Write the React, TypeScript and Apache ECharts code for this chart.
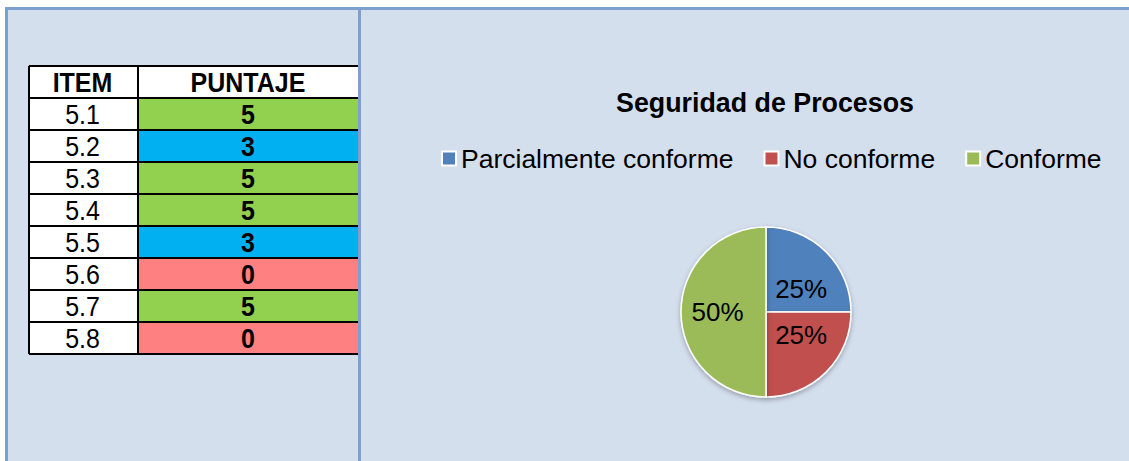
import React, { useEffect, useRef } from "react";
import * as echarts from "echarts";

const items = ["5.1", "5.2", "5.3", "5.4", "5.5", "5.6", "5.7", "5.8"];
const scores = [5, 3, 5, 5, 3, 0, 5, 0];
const tableHeaders = ["ITEM", "PUNTAJE"];
const pieTitle = "Seguridad de Procesos";
const pieCategories = ["Parcialmente conforme", "No conforme", "Conforme"];
const pieValues = [2, 2, 4];
const pieColors = ["#4F81BD", "#C0504D", "#9BBB59"];

const FONT = '"Liberation Sans", Arial, sans-serif';

function scoreColor(s: number) {
  if (s >= 5) return "#92D050";
  if (s >= 3) return "#00B0F0";
  return "#FF8080";
}

export default function App() {
  const ref = useRef<HTMLDivElement>(null);
  useEffect(() => {
    if (!ref.current) return;
    const chart = echarts.init(ref.current, undefined, { renderer: "svg" });
    const bg = "#D4DFEE";
    const border = "#7DA0CE";
    const x0 = 29, xMid = 138, x1 = 358, yTop = 66, rowH = 32;
    const nRows = items.length + 1;
    const pieCx = 766, pieCy = 312;
    const els: any[] = [];
    els.push({ type: "rect", shape: { x: 5, y: 7, width: 1124, height: 454 }, style: { fill: bg } });
    for (let r = 0; r < nRows; r++) {
      const y = yTop + r * rowH;
      els.push({ type: "rect", shape: { x: x0, y, width: xMid - x0, height: rowH }, style: { fill: "#fff" } });
      const fill = r === 0 ? "#fff" : scoreColor(scores[r - 1]);
      els.push({ type: "rect", shape: { x: xMid, y, width: x1 - xMid, height: rowH }, style: { fill } });
    }
    for (let r = 0; r <= nRows; r++) {
      const y = yTop + r * rowH;
      els.push({ type: "line", shape: { x1: x0, y1: y, x2: x1, y2: y }, style: { stroke: "#000", lineWidth: 2 } });
    }
    [x0, xMid].forEach((x) => {
      els.push({ type: "line", shape: { x1: x, y1: yTop, x2: x, y2: yTop + nRows * rowH }, style: { stroke: "#000", lineWidth: 2 } });
    });
    const cxItem = (x0 + xMid) / 2 - 1;
    const cxScore = (xMid + x1) / 2;
    tableHeaders.forEach((h, i) => {
      els.push({
        type: "text", x: i === 0 ? cxItem : cxScore, y: yTop + rowH / 2 + 1, scaleY: 1.1,
        style: { text: h, fontSize: 25, fontWeight: "bold", fontFamily: FONT, fill: "#000", align: "center", verticalAlign: "middle" },
      });
    });
    items.forEach((it, i) => {
      const cy = yTop + (i + 1) * rowH + rowH / 2 + 1;
      els.push({ type: "text", x: cxItem, y: cy, scaleY: 1.1, style: { text: it, fontSize: 25, fontFamily: FONT, fill: "#000", align: "center", verticalAlign: "middle" } });
      els.push({ type: "text", x: cxScore, y: cy, scaleY: 1.1, style: { text: String(scores[i]), fontSize: 25, fontWeight: "bold", fontFamily: FONT, fill: "#000", align: "center", verticalAlign: "middle" } });
    });
    els.push({ type: "rect", shape: { x: 5, y: 7, width: 1124, height: 3 }, style: { fill: border } });
    els.push({ type: "rect", shape: { x: 5, y: 7, width: 3, height: 454 }, style: { fill: border } });
    els.push({ type: "rect", shape: { x: 358, y: 7, width: 3, height: 454 }, style: { fill: border } });

    chart.setOption({
      animation: false,
      backgroundColor: "#fff",
      color: pieColors,
      graphic: { elements: els },
      title: {
        text: pieTitle, left: 765, top: 89, textAlign: "center", padding: 0,
        textStyle: { fontSize: 26.8, fontWeight: "bold", fontFamily: FONT, color: "#000" },
      },
      legend: {
        left: 441, top: 145, padding: 0, itemWidth: 14, itemHeight: 14, itemGap: 30, icon: "rect",
        data: pieCategories,
        textStyle: { fontSize: 26.5, fontFamily: FONT, color: "#000" },
      },
      series: [
        {
          type: "pie", center: [pieCx, pieCy], radius: 85, startAngle: 90, clockwise: true,
          itemStyle: { borderColor: "#fff", borderWidth: 1.5, shadowBlur: 5, shadowOffsetY: 2, shadowColor: "rgba(0,0,0,0.3)" },
          label: { show: true, position: "inside", formatter: "{d}%", fontSize: 26, fontFamily: FONT, color: "#000" },
          labelLine: { show: false },
          labelLayout: (p: any) => {
            const r = p.labelRect;
            const cy = r.y + r.height / 2;
            const cx = r.x + r.width / 2;
            return { dy: -(cy - pieCy) * 0.3, dx: cx > pieCx ? 3 : -3 };
          },
          emphasis: { disabled: true },
          data: pieCategories.map((n, i) => ({ name: n, value: pieValues[i] })),
        },
      ],
    });
    return () => chart.dispose();
  }, []);
  return <div ref={ref} style={{ position: "fixed", left: 0, top: 0, width: 1129, height: 461 }} />;
}
